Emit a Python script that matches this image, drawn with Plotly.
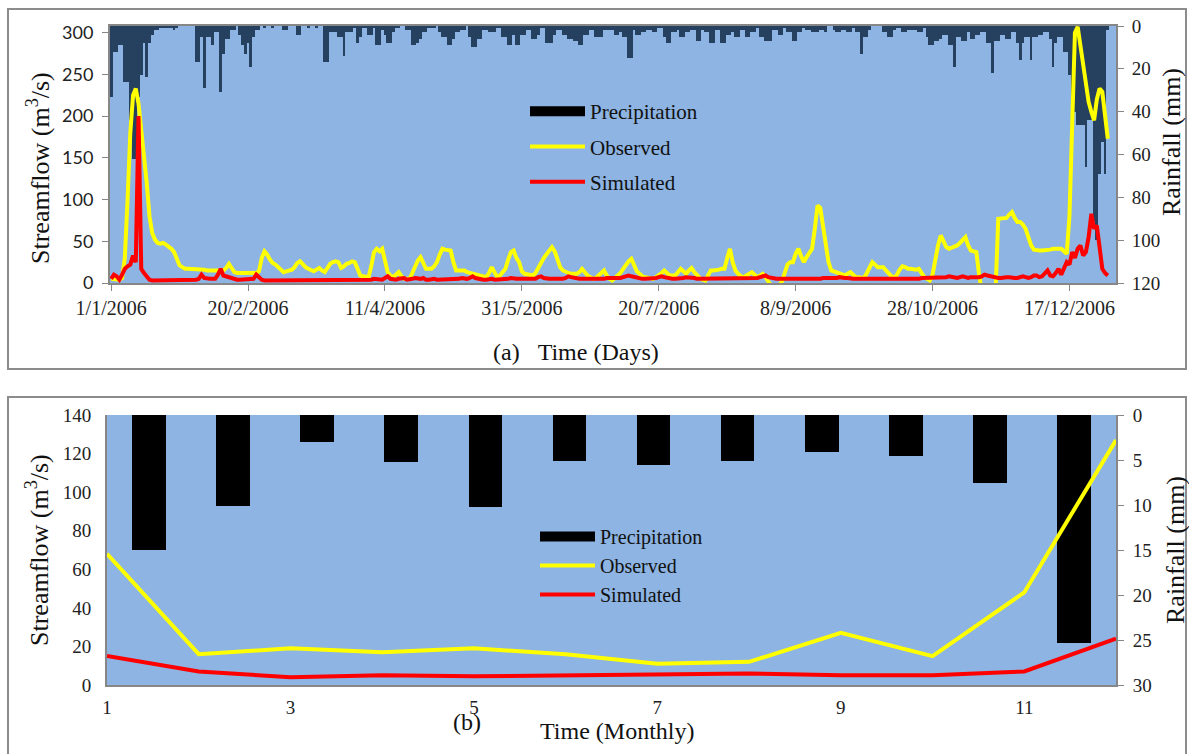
import plotly.graph_objects as go
import pandas as pd

# ---------------- data: daily (panel a) ----------------
dates = pd.date_range("2006-01-01", periods=365, freq="D")

precip_daily = [
    33, 12, 12, 9, 9, 26, 26, 44, 62, 62,
    33, 23, 8, 24, 8, 4, 2, 2, 1, 1,
    1, 1, 1, 2, 1, 0, 0, 0, 0, 0,
    0, 17, 17, 5, 29, 5, 5, 9, 3, 3,
    31, 13, 6, 6, 2, 2, 0, 4, 9, 13,
    8, 19, 5, 2, 2, 0, 1, 0, 0, 1,
    0, 0, 0, 2, 2, 0, 0, 0, 4, 4,
    0, 0, 1, 0, 0, 1, 0, 0, 17, 17,
    3, 3, 3, 5, 5, 14, 3, 3, 3, 1,
    8, 5, 1, 1, 4, 4, 1, 9, 9, 2,
    4, 8, 8, 3, 1, 1, 0, 0, 2, 2,
    9, 9, 8, 6, 3, 3, 1, 1, 1, 0,
    3, 5, 5, 9, 9, 6, 3, 3, 2, 2,
    0, 5, 10, 10, 6, 6, 2, 2, 3, 3,
    3, 1, 1, 5, 5, 9, 9, 4, 9, 9,
    4, 4, 2, 2, 6, 6, 4, 1, 1, 8,
    8, 8, 4, 2, 2, 4, 4, 6, 6, 7,
    7, 9, 9, 4, 4, 2, 2, 5, 5, 5,
    2, 2, 2, 2, 4, 4, 3, 5, 5, 15,
    15, 2, 4, 4, 3, 3, 2, 2, 3, 3,
    1, 1, 5, 8, 8, 3, 3, 2, 5, 5,
    3, 3, 2, 2, 7, 7, 2, 3, 3, 8,
    8, 2, 2, 8, 8, 4, 4, 3, 5, 5,
    2, 2, 5, 5, 3, 3, 1, 5, 5, 7,
    7, 7, 2, 2, 4, 4, 1, 3, 3, 7,
    7, 3, 3, 1, 2, 2, 3, 3, 3, 2,
    2, 3, 0, 0, 2, 3, 3, 2, 2, 3,
    3, 1, 3, 3, 13, 5, 5, 2, 0, 0,
    0, 0, 3, 3, 5, 5, 2, 1, 1, 3,
    3, 2, 2, 2, 2, 3, 3, 1, 5, 9,
    9, 7, 7, 6, 4, 4, 9, 9, 19, 5,
    5, 7, 7, 3, 6, 6, 4, 4, 3, 3,
    8, 8, 22, 7, 7, 4, 4, 6, 6, 3,
    3, 8, 16, 8, 5, 5, 16, 5, 5, 4,
    4, 3, 3, 6, 19, 8, 5, 5, 12, 12,
    23, 38, 40, 46, 46, 46, 66, 44, 44, 91,
    100, 69, 54, 69, 2,
]

observed_daily = [
    5, 5, 4, 4, 6, 30, 100, 180, 225, 233,
    215, 185, 154, 120, 80, 60, 52, 48, 47, 48,
    46, 44, 41, 37, 28, 21, 19, 17, 17, 17,
    17, 17, 17, 17, 16, 15, 15, 14, 14, 14,
    15, 15, 18, 23, 18, 13, 12, 12, 12, 12,
    12, 12, 12, 12, 14, 30, 38, 34, 28, 24,
    22, 19, 16, 13, 14, 15, 16, 19, 24, 26,
    22, 19, 17, 15, 14, 16, 18, 15, 13, 18,
    23, 25, 26, 25, 18, 20, 23, 24, 26, 25,
    17, 9, 8, 7, 7, 20, 37, 41, 38, 41,
    25, 13, 9, 7, 10, 13, 8, 5, 5, 5,
    12, 21, 27, 31, 24, 17, 17, 17, 20, 25,
    34, 41, 40, 39, 39, 25, 15, 15, 15, 15,
    13, 12, 11, 11, 10, 9, 8, 7, 12, 19,
    13, 7, 9, 13, 17, 28, 37, 39, 30, 25,
    14, 11, 10, 9, 9, 12, 17, 24, 30, 35,
    40, 43, 38, 27, 19, 15, 13, 12, 11, 11,
    11, 13, 17, 13, 9, 7, 5, 6, 9, 12,
    15, 9, 5, 3, 6, 9, 12, 17, 22, 26,
    29, 22, 14, 11, 8, 7, 6, 5, 5, 7,
    9, 12, 15, 12, 9, 9, 9, 13, 17, 14,
    11, 15, 18, 13, 9, 6, 4, 3, 9, 15,
    15, 15, 16, 17, 17, 30, 41, 25, 15, 11,
    8, 7, 9, 11, 13, 10, 7, 9, 11, 7,
    3, -3, -3, -3, -3, 2, 14, 22, 25, 25,
    35, 41, 32, 25, 31, 37, 41, 65, 93, 90,
    70, 45, 25, 15, 14, 13, 12, 10, 9, 11,
    13, 10, 7, 7, 6, 6, 12, 20, 25, 22,
    19, 19, 19, 15, 11, 8, 6, 10, 16, 20,
    19, 17, 17, 16, 16, 17, 12, 7, 5, 3,
    10, 30, 45, 57, 50, 43, 41, 42, 43, 45,
    48, 52, 55, 45, 39, 38, 37, 10, -10, -10,
    -10, -10, -10, -10, 77, 77, 77, 78, 82, 85,
    78, 73, 73, 70, 65, 55, 45, 40, 39, 39,
    39, 39, 40, 40, 41, 41, 41, 41, 38, 35,
    80, 190, 300, 307, 285, 265, 240, 217, 205, 195,
    220, 233, 229, 200, 173,
]

simulated_daily = [
    5, 10, 8, 4, 10, 17, 20, 22, 33, 25,
    200, 17, 12, 8, 4, 3, 3, 3, 3, 3,
    3, 3, 3, 3, 3, 3, 3, 3, 3, 3,
    3, 4, 5, 10, 6, 5, 5, 5, 5, 10,
    17, 9, 8, 6, 5, 5, 4, 4, 4, 4,
    5, 4, 5, 10, 7, 4, 3, 3, 3, 3,
    3, 3, 3, 3, 3, 3, 3, 4, 4, 3,
    3, 3, 3, 3, 3, 4, 3, 3, 3, 3,
    3, 3, 4, 3, 3, 3, 4, 3, 4, 4,
    4, 4, 3, 3, 4, 4, 5, 5, 4, 4,
    6, 8, 5, 4, 4, 5, 5, 6, 4, 4,
    5, 6, 5, 5, 6, 4, 4, 5, 5, 4,
    4, 4, 5, 5, 4, 4, 5, 5, 6, 5,
    5, 6, 8, 6, 5, 5, 4, 4, 5, 5,
    4, 4, 4, 5, 5, 5, 6, 5, 5, 5,
    5, 5, 4, 4, 5, 5, 7, 8, 6, 5,
    5, 5, 5, 5, 4, 5, 6, 8, 7, 6,
    5, 5, 5, 5, 5, 4, 4, 4, 5, 5,
    5, 6, 6, 5, 5, 5, 6, 7, 8, 9,
    8, 7, 6, 6, 5, 5, 5, 5, 5, 6,
    7, 8, 7, 6, 5, 5, 5, 5, 6, 6,
    7, 7, 6, 6, 5, 5, 5, 5, 5, 5,
    5, 5, 6, 6, 5, 6, 6, 6, 5, 5,
    5, 5, 6, 5, 6, 6, 6, 7, 8, 9,
    7, 6, 5, 5, 5, 5, 5, 4, 4, 5,
    5, 5, 4, 5, 5, 5, 5, 4, 5, 5,
    6, 6, 5, 5, 5, 6, 7, 6, 6, 6,
    5, 5, 5, 5, 5, 5, 5, 4, 4, 4,
    4, 4, 4, 4, 4, 5, 5, 5, 4, 4,
    4, 4, 5, 4, 5, 5, 6, 6, 7, 6,
    6, 7, 6, 7, 6, 7, 8, 7, 7, 6,
    7, 8, 7, 6, 7, 7, 6, 7, 8, 10,
    9, 8, 7, 6, 6, 6, 7, 7, 7, 6,
    6, 6, 7, 8, 7, 6, 7, 9, 9, 7,
    8, 11, 15, 9, 8, 12, 17, 10, 18, 25,
    22, 37, 30, 41, 45, 33, 37, 55, 83, 65,
    69, 40, 17, 12, 9,
]

date_tick_vals = ["2006-01-01", "2006-02-20", "2006-04-11", "2006-05-31",
                  "2006-07-20", "2006-09-08", "2006-10-28", "2006-12-17"]
date_tick_text = ["1/1/2006", "20/2/2006", "11/4/2006", "31/5/2006",
                  "20/7/2006", "8/9/2006", "28/10/2006", "17/12/2006"]

# ---------------- data: monthly (panel b) ----------------
months = [1, 2, 3, 4, 5, 6, 7, 8, 9, 10, 11, 12]
month_categories = ["M1", "M2", "M3", "M4", "M5", "M6", "M7", "M8", "M9", "M10", "M11", "M12"]
precip_monthly = [15.0, 10.1, 3.0, 5.2, 10.2, 5.1, 5.6, 5.1, 4.1, 4.6, 7.6, 25.3]
observed_monthly = [68, 16, 19, 17, 19, 16, 11, 12, 27, 15, 48, 127]
simulated_monthly = [15, 7, 4, 5, 4.5, 5, 6, 6, 5, 5, 7, 24]
month_tick_vals = [1, 3, 5, 7, 9, 11]

# ---------------- styling ----------------
W, H = 1189, 754
SERIF = "Liberation Serif"
SANS = "Lato"
BG = "#8DB4E2"
NAVY = "#26405F"
AXC = "#878787"


def px(x):
    return x / W


def py(y):
    return 1 - y / H


fig = go.Figure()

# panel (a)
fig.add_trace(go.Bar(x=dates, y=precip_daily, xaxis="x", yaxis="y",
                     marker=dict(color=NAVY, line=dict(width=0)),
                     showlegend=False, name="Precipitation"))
fig.add_trace(go.Scatter(x=[None], y=[None], xaxis="x", yaxis="y2", mode="lines",
                         line=dict(color="black", width=11), name="Precipitation",
                         legend="legend"))
fig.add_trace(go.Scatter(x=dates, y=observed_daily, xaxis="x", yaxis="y2", mode="lines",
                         line=dict(color="#FFFF00", width=4), name="Observed",
                         legend="legend"))
fig.add_trace(go.Scatter(x=dates, y=simulated_daily, xaxis="x", yaxis="y2", mode="lines",
                         line=dict(color="#FF0000", width=4), name="Simulated",
                         legend="legend"))

# panel (b)
fig.add_trace(go.Bar(x=month_categories, y=precip_monthly, xaxis="x2", yaxis="y3",
                     marker=dict(color="black", line=dict(width=0)), width=0.4,
                     showlegend=False, name="Precipitation"))
fig.add_trace(go.Scatter(x=[None], y=[None], xaxis="x3", yaxis="y4", mode="lines",
                         line=dict(color="black", width=11), name="Precipitation",
                         legend="legend2"))
fig.add_trace(go.Scatter(x=months, y=observed_monthly, xaxis="x3", yaxis="y4", mode="lines",
                         line=dict(color="#FFFF00", width=4), name="Observed",
                         legend="legend2"))
fig.add_trace(go.Scatter(x=months, y=simulated_monthly, xaxis="x3", yaxis="y4", mode="lines",
                         line=dict(color="#FF0000", width=4), name="Simulated",
                         legend="legend2"))

axis_common = dict(showgrid=False, zeroline=False, showline=True, linecolor=AXC,
                   linewidth=2, tickcolor=AXC, automargin=False)

fig.update_layout(
    width=W, height=H,
    margin=dict(l=0, r=0, t=0, b=0, autoexpand=False),
    paper_bgcolor="white",
    plot_bgcolor=BG,
    bargap=0,
    barmode="overlay",
    xaxis=dict(domain=[px(110), px(1116)], anchor="y", type="date",
               range=["2005-12-31 14:00", "2007-01-03"],
               tickvals=date_tick_vals, ticktext=date_tick_text,
               ticks="outside", ticklen=6, mirror=True,
               tickfont=dict(family=SERIF, size=20, color="#222"), **axis_common),
    yaxis=dict(domain=[py(283), py(26)], anchor="x", side="right",
               range=[120, 0], tickvals=[0, 20, 40, 60, 80, 100, 120],
               ticks="outside", ticklen=6, ticklabelstandoff=4,
               tickfont=dict(family=SERIF, size=19, color="#222"), **axis_common),
    yaxis2=dict(overlaying="y", anchor="x", side="left", range=[0, 308],
                tickvals=[0, 50, 100, 150, 200, 250, 300],
                ticks="outside", ticklen=6, ticklabelstandoff=5,
                tickfont=dict(family=SANS, size=18, color="#222"), **axis_common),
    xaxis2=dict(domain=[px(107), px(1116)], anchor="y3", type="category",
                range=[-0.5, 11.5], visible=False, automargin=False),
    yaxis3=dict(domain=[py(685), py(415)], anchor="x2", side="right",
                range=[30, 0], tickvals=[0, 5, 10, 15, 20, 25, 30],
                ticks="outside", ticklen=6, ticklabelstandoff=5,
                tickfont=dict(family=SERIF, size=19, color="#222"), **axis_common),
    xaxis3=dict(overlaying="x2", anchor="y3", range=[1, 12], tickvals=month_tick_vals,
                ticks="", ticklabelstandoff=4,
                tickfont=dict(family=SERIF, size=19, color="#222"), **axis_common),
    yaxis4=dict(overlaying="y3", anchor="x2", side="left", range=[0, 140],
                tickvals=[0, 20, 40, 60, 80, 100, 120, 140],
                ticks="", ticklabelstandoff=10,
                tickfont=dict(family=SERIF, size=19, color="#222"), **axis_common),
    legend=dict(x=px(525), y=py(91), xanchor="left", yanchor="top", itemwidth=55,
                bgcolor="rgba(0,0,0,0)", font=dict(family=SERIF, size=21, color="#111"),
                tracegroupgap=5, traceorder="grouped"),
    legend2=dict(x=px(535), y=py(517), xanchor="left", yanchor="top", itemwidth=55,
                 bgcolor="rgba(0,0,0,0)", font=dict(family=SERIF, size=20, color="#111"),
                 tracegroupgap=0, traceorder="grouped"),
)

# legend groups for spacing
for i, tr in enumerate(fig.data):
    tr.legendgroup = "g%d" % i

# outer frames
fig.add_shape(type="rect", xref="paper", yref="paper", x0=px(8), x1=px(1186),
              y0=py(369), y1=py(9), line=dict(color="#8C8C8C", width=2), layer="below")
fig.add_shape(type="rect", xref="paper", yref="paper", x0=px(8), x1=px(1186),
              y0=py(760), y1=py(397), line=dict(color="#8C8C8C", width=2), layer="below")

ann_font = dict(family=SERIF, size=24, color="#111")
common_ann = dict(xref="paper", yref="paper", showarrow=False,
                  xanchor="center", yanchor="middle")
fig.add_annotation(text="(a)&nbsp;&nbsp;&nbsp;Time (Days)", x=px(576), y=py(352),
                   font=ann_font, **common_ann)
fig.add_annotation(text="(b)", x=px(467), y=py(722), font=ann_font, **common_ann)
fig.add_annotation(text="Time (Monthly)", x=px(617), y=py(731),
                   font=dict(family=SERIF, size=24, color="#111"), **common_ann)
title_font = dict(family=SERIF, size=26, color="#111")
fig.add_annotation(text="Streamflow (m<sup>3</sup>/s)", x=px(38), y=py(168),
                   textangle=-90, font=title_font, **common_ann)
fig.add_annotation(text="Streamflow (m<sup>3</sup>/s)", x=px(37), y=py(550),
                   textangle=-90, font=title_font, **common_ann)
fig.add_annotation(text="Rainfall (mm)", x=px(1172), y=py(142),
                   textangle=-90, font=title_font, **common_ann)
fig.add_annotation(text="Rainfall (mm)", x=px(1175), y=py(550),
                   textangle=-90, font=title_font, **common_ann)

fig.write_html("out.html",
               config={"displayModeBar": False},
               post_script="document.body.style.margin='0';"
                           "document.body.style.overflow='hidden';")
